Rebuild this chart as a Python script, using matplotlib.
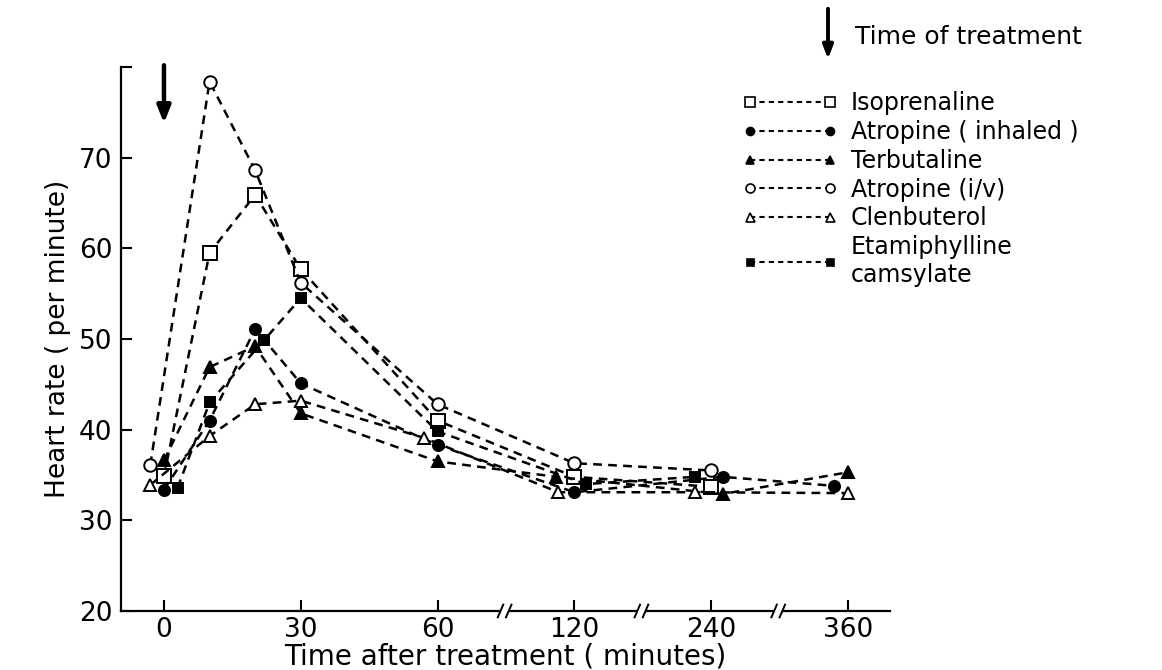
import numpy as np
from matplotlib import pyplot as plt
from matplotlib.lines import Line2D

# minutes on the broken axis -> evenly spaced tick positions
tick_minutes = [0, 30, 60, 120, 240, 360]
tick_labels = ["0", "30", "60", "120", "240", "360"]

iso_t = [0, 10, 20, 30, 60, 120, 240]
iso_hr = [34.9, 59.5, 65.9, 57.7, 41.0, 34.8, 33.7]

atr_inh_t = [0, 10, 20, 30, 60, 120, 250, 348]
atr_inh_hr = [33.4, 41.0, 51.1, 45.1, 38.3, 33.1, 34.8, 33.8]

terb_t = [0, 10, 20, 30, 60, 112, 250, 360]
terb_hr = [36.6, 46.9, 49.2, 41.8, 36.5, 34.8, 32.9, 35.3]

atr_iv_t = [-3, 10, 20, 30, 60, 120, 240]
atr_iv_hr = [36.1, 78.4, 68.6, 56.2, 42.8, 36.3, 35.5]

clen_t = [-3, 10, 20, 30, 57, 113, 226, 360]
clen_hr = [33.9, 39.3, 42.8, 43.2, 39.1, 33.1, 33.1, 33.0]

etam_t = [3, 10, 22, 30, 60, 130, 226]
etam_hr = [33.6, 43.0, 49.9, 54.5, 39.8, 34.0, 34.8]


def xpos(minutes):
    m = np.asarray(minutes, dtype=float)
    idx = np.arange(len(tick_minutes))
    return np.where(m < 0, m / 30.0, np.interp(m, tick_minutes, idx))


plt.rcParams["font.family"] = "DejaVu Sans"

fig = plt.figure(figsize=(11.62, 6.70), dpi=100)
ax = fig.add_axes([121 / 1162, 59 / 670, (890 - 121) / 1162, (611 - 67) / 670])

dash = (3.5, 2.5)
series = [
    (iso_t, iso_hr, "s", "white", 9.5, "Isoprenaline"),
    (atr_inh_t, atr_inh_hr, "o", "black", 8, "Atropine ( inhaled )"),
    (terb_t, terb_hr, "^", "black", 8, "Terbutaline"),
    (atr_iv_t, atr_iv_hr, "o", "white", 9, "Atropine (i/v)"),
    (clen_t, clen_hr, "^", "white", 9, "Clenbuterol"),
    (etam_t, etam_hr, "s", "black", 7, "Etamiphylline\ncamsylate"),
]

handles = []
for t, hr, mk, fc, ms, label in series:
    ax.plot(xpos(t), hr, color="black", lw=1.8, dashes=dash,
            marker=mk, ms=ms, mfc=fc, mec="black", mew=1.4,
            label=label, zorder=3)
    handles.append(Line2D([], [], color="black", lw=1.5, dashes=(2.5, 2),
                          marker=mk, ms=ms * 0.72, mfc=fc, mec="black", mew=1.2))

ax.set_xlim(-0.314, 5.307)
ax.set_ylim(20, 80)
ax.set_xticks(range(len(tick_labels)))
ax.set_xticklabels(tick_labels)
ax.set_yticks([20, 30, 40, 50, 60, 70, 80])
ax.set_yticklabels(["20", "30", "40", "50", "60", "70", ""])
ax.tick_params(direction="in", length=8, width=1.5, labelsize=19, pad=4)
ax.tick_params(axis="y", pad=6)

for side in ["top", "right", "bottom"]:
    ax.spines[side].set_visible(False)
ax.spines["left"].set_linewidth(1.6)

# broken x axis
segments = [(-0.314, 2.45), (2.53, 3.45), (3.53, 4.45), (4.53, 5.307)]
for a, b in segments:
    ax.plot([a, b], [20, 20], color="black", lw=1.6, clip_on=False, zorder=4)
for g in [2.49, 3.49, 4.49]:
    for dx in (-0.03, 0.03):
        ax.plot([g + dx - 0.02, g + dx + 0.02], [19.3, 20.7], color="black",
                lw=1.4, clip_on=False, zorder=4)

ax.set_xlabel("Time after treatment ( minutes)", fontsize=20, labelpad=0)
ax.set_ylabel("Heart rate ( per minute)", fontsize=19, labelpad=6)

# arrow marking time of treatment
ax.annotate("", xy=(0, 73.5), xytext=(0, 80.5),
            arrowprops=dict(arrowstyle="-|>,head_width=0.4,head_length=1.0",
                            color="black", lw=3.2))

# key: arrow + "Time of treatment"
fig.add_artist(plt.Annotation("", xy=(828 / 1162, 1 - 62 / 670),
                              xytext=(828 / 1162, 1 - 6 / 670),
                              xycoords="figure fraction",
                              arrowprops=dict(arrowstyle="-|>,head_width=0.3,head_length=0.8",
                                              color="black", lw=2.8)))
fig.text(855 / 1162, 1 - 37 / 670, "Time of treatment", fontsize=18, va="center")

fig.legend(handles, [s[5] for s in series], loc="upper left",
           bbox_to_anchor=(733 / 1162, 1 - 82 / 670), frameon=False,
           handlelength=4.0, numpoints=2, fontsize=17, labelspacing=0.2,
           handletextpad=0.6, borderaxespad=0)

fig.savefig("out.png", dpi=100)
